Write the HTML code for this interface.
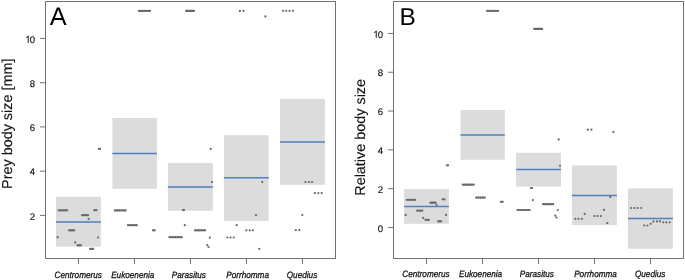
<!DOCTYPE html>
<html><head><meta charset="utf-8"><style>
html,body{margin:0;padding:0;background:#fff;}
body{width:685px;height:280px;overflow:hidden;}
svg{display:block;font-family:"Liberation Sans",sans-serif;will-change:transform;text-rendering:geometricPrecision;}
</style></head><body>
<svg width="685" height="280" viewBox="0 0 685 280">
<rect x="0" y="0" width="685" height="280" fill="#fff"/>
<rect x="56" y="196.8" width="44.9" height="49.9" fill="#dcdcdc"/>
<rect x="112.4" y="118" width="44.5" height="70.8" fill="#dcdcdc"/>
<rect x="167.9" y="163" width="45" height="47.8" fill="#dcdcdc"/>
<rect x="223.9" y="135.2" width="44.8" height="85.7" fill="#dcdcdc"/>
<rect x="280" y="98.9" width="44.9" height="85.9" fill="#dcdcdc"/>
<line x1="56" y1="222" x2="100.9" y2="222" stroke="#527fc0" stroke-width="1.5"/>
<line x1="112.4" y1="153.5" x2="156.9" y2="153.5" stroke="#527fc0" stroke-width="1.5"/>
<line x1="167.9" y1="187" x2="212.9" y2="187" stroke="#527fc0" stroke-width="1.5"/>
<line x1="223.9" y1="177.7" x2="268.7" y2="177.7" stroke="#527fc0" stroke-width="1.5"/>
<line x1="280" y1="142" x2="324.9" y2="142" stroke="#527fc0" stroke-width="1.5"/>
<line x1="58.6" y1="210.3" x2="67.2" y2="210.3" stroke="#858585" stroke-width="1.9"/>
<circle cx="58.6" cy="210.3" r="1.1" fill="#686868"/>
<circle cx="60.75" cy="210.3" r="1.1" fill="#686868"/>
<circle cx="62.9" cy="210.3" r="1.1" fill="#686868"/>
<circle cx="65.05" cy="210.3" r="1.1" fill="#686868"/>
<circle cx="67.2" cy="210.3" r="1.1" fill="#686868"/>
<line x1="94.3" y1="210.2" x2="96.5" y2="210.2" stroke="#858585" stroke-width="1.9"/>
<circle cx="94.3" cy="210.2" r="1.1" fill="#686868"/>
<circle cx="96.5" cy="210.2" r="1.1" fill="#686868"/>
<line x1="82.1" y1="215.2" x2="88" y2="215.2" stroke="#858585" stroke-width="1.9"/>
<circle cx="82.1" cy="215.2" r="1.1" fill="#686868"/>
<circle cx="84.07" cy="215.2" r="1.1" fill="#686868"/>
<circle cx="86.03" cy="215.2" r="1.1" fill="#686868"/>
<circle cx="88" cy="215.2" r="1.1" fill="#686868"/>
<circle cx="88.6" cy="218.9" r="1.1" fill="#686868"/>
<line x1="69" y1="230.3" x2="74.2" y2="230.3" stroke="#858585" stroke-width="1.9"/>
<circle cx="69" cy="230.3" r="1.1" fill="#686868"/>
<circle cx="70.73" cy="230.3" r="1.1" fill="#686868"/>
<circle cx="72.47" cy="230.3" r="1.1" fill="#686868"/>
<circle cx="74.2" cy="230.3" r="1.1" fill="#686868"/>
<circle cx="57.6" cy="237.2" r="1.1" fill="#686868"/>
<circle cx="97.9" cy="237.5" r="1.1" fill="#686868"/>
<circle cx="75.2" cy="242.4" r="1.1" fill="#686868"/>
<line x1="77.5" y1="245.3" x2="80.9" y2="245.3" stroke="#858585" stroke-width="1.9"/>
<circle cx="77.5" cy="245.3" r="1.1" fill="#686868"/>
<circle cx="79.2" cy="245.3" r="1.1" fill="#686868"/>
<circle cx="80.9" cy="245.3" r="1.1" fill="#686868"/>
<line x1="90.1" y1="248.8" x2="93.2" y2="248.8" stroke="#858585" stroke-width="1.9"/>
<circle cx="90.1" cy="248.8" r="1.1" fill="#686868"/>
<circle cx="91.65" cy="248.8" r="1.1" fill="#686868"/>
<circle cx="93.2" cy="248.8" r="1.1" fill="#686868"/>
<circle cx="98.9" cy="148.9" r="1.1" fill="#686868"/>
<circle cx="100" cy="148.9" r="1.1" fill="#686868"/>
<line x1="138.9" y1="10.9" x2="150" y2="10.9" stroke="#858585" stroke-width="1.9"/>
<circle cx="138.9" cy="10.9" r="1.1" fill="#686868"/>
<circle cx="140.75" cy="10.9" r="1.1" fill="#686868"/>
<circle cx="142.6" cy="10.9" r="1.1" fill="#686868"/>
<circle cx="144.45" cy="10.9" r="1.1" fill="#686868"/>
<circle cx="146.3" cy="10.9" r="1.1" fill="#686868"/>
<circle cx="148.15" cy="10.9" r="1.1" fill="#686868"/>
<circle cx="150" cy="10.9" r="1.1" fill="#686868"/>
<line x1="114.8" y1="210.4" x2="125.6" y2="210.4" stroke="#858585" stroke-width="1.9"/>
<circle cx="114.8" cy="210.4" r="1.1" fill="#686868"/>
<circle cx="116.96" cy="210.4" r="1.1" fill="#686868"/>
<circle cx="119.12" cy="210.4" r="1.1" fill="#686868"/>
<circle cx="121.28" cy="210.4" r="1.1" fill="#686868"/>
<circle cx="123.44" cy="210.4" r="1.1" fill="#686868"/>
<circle cx="125.6" cy="210.4" r="1.1" fill="#686868"/>
<line x1="128" y1="225.2" x2="136.8" y2="225.2" stroke="#858585" stroke-width="1.9"/>
<circle cx="128" cy="225.2" r="1.1" fill="#686868"/>
<circle cx="130.2" cy="225.2" r="1.1" fill="#686868"/>
<circle cx="132.4" cy="225.2" r="1.1" fill="#686868"/>
<circle cx="134.6" cy="225.2" r="1.1" fill="#686868"/>
<circle cx="136.8" cy="225.2" r="1.1" fill="#686868"/>
<line x1="152.9" y1="230.3" x2="154.7" y2="230.3" stroke="#858585" stroke-width="1.9"/>
<circle cx="152.9" cy="230.3" r="1.1" fill="#686868"/>
<circle cx="154.7" cy="230.3" r="1.1" fill="#686868"/>
<line x1="186.1" y1="10.8" x2="194" y2="10.8" stroke="#696969" stroke-width="2.3" stroke-linecap="round"/>
<circle cx="210.7" cy="148.9" r="1.1" fill="#686868"/>
<circle cx="212" cy="182.1" r="1.1" fill="#686868"/>
<line x1="184" y1="210.1" x2="183" y2="210.1" stroke="#858585" stroke-width="1.9"/>
<circle cx="184" cy="210.1" r="1.1" fill="#686868"/>
<circle cx="183" cy="210.1" r="1.1" fill="#686868"/>
<circle cx="184.8" cy="225.2" r="1.1" fill="#686868"/>
<line x1="195" y1="230.3" x2="205.1" y2="230.3" stroke="#858585" stroke-width="1.9"/>
<circle cx="195" cy="230.3" r="1.1" fill="#686868"/>
<circle cx="197.02" cy="230.3" r="1.1" fill="#686868"/>
<circle cx="199.04" cy="230.3" r="1.1" fill="#686868"/>
<circle cx="201.06" cy="230.3" r="1.1" fill="#686868"/>
<circle cx="203.08" cy="230.3" r="1.1" fill="#686868"/>
<circle cx="205.1" cy="230.3" r="1.1" fill="#686868"/>
<line x1="169.4" y1="237.2" x2="181.7" y2="237.2" stroke="#858585" stroke-width="1.9"/>
<circle cx="169.4" cy="237.2" r="1.1" fill="#686868"/>
<circle cx="171.45" cy="237.2" r="1.1" fill="#686868"/>
<circle cx="173.5" cy="237.2" r="1.1" fill="#686868"/>
<circle cx="175.55" cy="237.2" r="1.1" fill="#686868"/>
<circle cx="177.6" cy="237.2" r="1.1" fill="#686868"/>
<circle cx="179.65" cy="237.2" r="1.1" fill="#686868"/>
<circle cx="181.7" cy="237.2" r="1.1" fill="#686868"/>
<circle cx="209.8" cy="237.7" r="1.1" fill="#686868"/>
<circle cx="207.3" cy="245.1" r="1.1" fill="#686868"/>
<circle cx="208.5" cy="247" r="1.1" fill="#686868"/>
<circle cx="239.9" cy="10.9" r="1.1" fill="#686868"/>
<circle cx="243.5" cy="10.9" r="1.1" fill="#686868"/>
<circle cx="265.4" cy="16.4" r="1.1" fill="#686868"/>
<circle cx="262.3" cy="182.1" r="1.1" fill="#686868"/>
<circle cx="256" cy="215.2" r="1.1" fill="#686868"/>
<circle cx="236.7" cy="225.2" r="1.1" fill="#686868"/>
<circle cx="246.4" cy="230.3" r="1.1" fill="#686868"/>
<circle cx="249.7" cy="230.3" r="1.1" fill="#686868"/>
<circle cx="252.9" cy="230.3" r="1.1" fill="#686868"/>
<circle cx="227.4" cy="237.5" r="1.1" fill="#686868"/>
<circle cx="230.6" cy="237.5" r="1.1" fill="#686868"/>
<circle cx="233.8" cy="237.5" r="1.1" fill="#686868"/>
<circle cx="259.3" cy="248.8" r="1.1" fill="#686868"/>
<circle cx="283" cy="10.8" r="1.1" fill="#686868"/>
<circle cx="286.2" cy="10.8" r="1.1" fill="#686868"/>
<circle cx="289.5" cy="10.8" r="1.1" fill="#686868"/>
<circle cx="293" cy="10.8" r="1.1" fill="#686868"/>
<circle cx="305.4" cy="182" r="1.1" fill="#686868"/>
<circle cx="308.9" cy="182" r="1.1" fill="#686868"/>
<circle cx="312" cy="182" r="1.1" fill="#686868"/>
<circle cx="314.9" cy="193.1" r="1.1" fill="#686868"/>
<circle cx="318.3" cy="193.1" r="1.1" fill="#686868"/>
<circle cx="321.7" cy="193.1" r="1.1" fill="#686868"/>
<circle cx="302.3" cy="215.1" r="1.1" fill="#686868"/>
<circle cx="295.8" cy="230.2" r="1.1" fill="#686868"/>
<circle cx="299.3" cy="230.2" r="1.1" fill="#686868"/>
<rect x="45.5" y="1.5" width="290.0" height="257.0" fill="none" stroke="#737178" stroke-width="1"/>
<line x1="40.0" y1="215.41" x2="45.5" y2="215.41" stroke="#737178" stroke-width="1"/>
<text x="35.2" y="0" font-size="9.6" text-anchor="end" fill="#111" stroke="#111" stroke-width="0.15" transform="translate(0 219.61) scale(1 1.0)">2</text>
<line x1="40.0" y1="171.17" x2="45.5" y2="171.17" stroke="#737178" stroke-width="1"/>
<text x="35.2" y="0" font-size="9.6" text-anchor="end" fill="#111" stroke="#111" stroke-width="0.15" transform="translate(0 175.37) scale(1 1.0)">4</text>
<line x1="40.0" y1="126.93" x2="45.5" y2="126.93" stroke="#737178" stroke-width="1"/>
<text x="35.2" y="0" font-size="9.6" text-anchor="end" fill="#111" stroke="#111" stroke-width="0.15" transform="translate(0 131.13) scale(1 1.0)">6</text>
<line x1="40.0" y1="82.69" x2="45.5" y2="82.69" stroke="#737178" stroke-width="1"/>
<text x="35.2" y="0" font-size="9.6" text-anchor="end" fill="#111" stroke="#111" stroke-width="0.15" transform="translate(0 86.89) scale(1 1.0)">8</text>
<line x1="40.0" y1="38.45" x2="45.5" y2="38.45" stroke="#737178" stroke-width="1"/>
<text x="35.2" y="0" font-size="9.6" text-anchor="end" fill="#111" stroke="#111" stroke-width="0.15" transform="translate(0 42.65) scale(1 1.0)">0</text>
<path d="M0.462 0 L0.462 0.716 L0.40 0.716 C0.37 0.672 0.32 0.628 0.27 0.596 C0.24 0.578 0.215 0.566 0.195 0.556 L0.195 0.474 C0.225 0.488 0.26 0.506 0.29 0.526 C0.33 0.552 0.355 0.572 0.373 0.59 L0.373 0 Z" fill="#111" stroke="#111" stroke-width="0.016" transform="translate(24.22 42.65) scale(9.6 -9.6)"/>
<line x1="78.5" y1="258.5" x2="78.5" y2="264.0" stroke="#737178" stroke-width="1"/>
<text x="78.25" y="0" font-size="8.2" font-style="italic" text-anchor="middle" fill="#111" stroke="#111" stroke-width="0.25" transform="translate(0 278) scale(1 1.12)">Centromerus</text>
<line x1="134.5" y1="258.5" x2="134.5" y2="264.0" stroke="#737178" stroke-width="1"/>
<text x="132.75" y="0" font-size="8.2" font-style="italic" text-anchor="middle" fill="#111" stroke="#111" stroke-width="0.25" transform="translate(0 278) scale(1 1.12)">Eukoenenia</text>
<line x1="190.5" y1="258.5" x2="190.5" y2="264.0" stroke="#737178" stroke-width="1"/>
<text x="188.9" y="0" font-size="8.2" font-style="italic" text-anchor="middle" fill="#111" stroke="#111" stroke-width="0.25" transform="translate(0 278) scale(1 1.12)">Parasitus</text>
<line x1="246.5" y1="258.5" x2="246.5" y2="264.0" stroke="#737178" stroke-width="1"/>
<text x="247.6" y="0" font-size="8.2" font-style="italic" text-anchor="middle" fill="#111" stroke="#111" stroke-width="0.25" transform="translate(0 278) scale(1 1.12)">Porrhomma</text>
<line x1="302.5" y1="258.5" x2="302.5" y2="264.0" stroke="#737178" stroke-width="1"/>
<text x="302" y="0" font-size="8.2" font-style="italic" text-anchor="middle" fill="#111" stroke="#111" stroke-width="0.25" transform="translate(0 278) scale(1 1.12)">Quedius</text>
<text x="7.5" y="123.75" font-size="14.4" text-anchor="middle" fill="#111" stroke="#111" stroke-width="0.12" transform="rotate(-90 7.5 123.75)" dominant-baseline="central">Prey body size [mm]</text>
<text x="49.8" y="24.9" font-size="25.3" fill="#000">A</text>
<rect x="404.1" y="189" width="44.8" height="34.8" fill="#dcdcdc"/>
<rect x="460.5" y="110" width="44.3" height="49.8" fill="#dcdcdc"/>
<rect x="516.1" y="152.8" width="44.9" height="33.8" fill="#dcdcdc"/>
<rect x="572" y="165.4" width="44.9" height="59.6" fill="#dcdcdc"/>
<rect x="628" y="188.4" width="44.9" height="60.4" fill="#dcdcdc"/>
<line x1="404.1" y1="206.5" x2="448.9" y2="206.5" stroke="#527fc0" stroke-width="1.5"/>
<line x1="460.5" y1="135" x2="504.8" y2="135" stroke="#527fc0" stroke-width="1.5"/>
<line x1="516.1" y1="169.5" x2="561" y2="169.5" stroke="#527fc0" stroke-width="1.5"/>
<line x1="572" y1="195.5" x2="616.9" y2="195.5" stroke="#527fc0" stroke-width="1.5"/>
<line x1="628" y1="218.5" x2="672.9" y2="218.5" stroke="#527fc0" stroke-width="1.5"/>
<circle cx="446.9" cy="165.3" r="1.1" fill="#686868"/>
<circle cx="448.1" cy="165.3" r="1.1" fill="#686868"/>
<line x1="406.9" y1="199.8" x2="415.2" y2="199.8" stroke="#858585" stroke-width="1.9"/>
<circle cx="406.9" cy="199.8" r="1.1" fill="#686868"/>
<circle cx="408.97" cy="199.8" r="1.1" fill="#686868"/>
<circle cx="411.05" cy="199.8" r="1.1" fill="#686868"/>
<circle cx="413.12" cy="199.8" r="1.1" fill="#686868"/>
<circle cx="415.2" cy="199.8" r="1.1" fill="#686868"/>
<line x1="442.7" y1="199.3" x2="444.5" y2="199.3" stroke="#858585" stroke-width="1.9"/>
<circle cx="442.7" cy="199.3" r="1.1" fill="#686868"/>
<circle cx="444.5" cy="199.3" r="1.1" fill="#686868"/>
<line x1="430.4" y1="202.7" x2="435.6" y2="202.7" stroke="#858585" stroke-width="1.9"/>
<circle cx="430.4" cy="202.7" r="1.1" fill="#686868"/>
<circle cx="432.13" cy="202.7" r="1.1" fill="#686868"/>
<circle cx="433.87" cy="202.7" r="1.1" fill="#686868"/>
<circle cx="435.6" cy="202.7" r="1.1" fill="#686868"/>
<circle cx="436.6" cy="204.8" r="1.1" fill="#686868"/>
<line x1="417.2" y1="210.7" x2="422.2" y2="210.7" stroke="#858585" stroke-width="1.9"/>
<circle cx="417.2" cy="210.7" r="1.1" fill="#686868"/>
<circle cx="419.7" cy="210.7" r="1.1" fill="#686868"/>
<circle cx="422.2" cy="210.7" r="1.1" fill="#686868"/>
<circle cx="405.6" cy="214.9" r="1.1" fill="#686868"/>
<circle cx="446" cy="214.9" r="1.1" fill="#686868"/>
<circle cx="423.2" cy="217.9" r="1.1" fill="#686868"/>
<line x1="425.5" y1="219.8" x2="428.9" y2="219.8" stroke="#858585" stroke-width="1.9"/>
<circle cx="425.5" cy="219.8" r="1.1" fill="#686868"/>
<circle cx="427.2" cy="219.8" r="1.1" fill="#686868"/>
<circle cx="428.9" cy="219.8" r="1.1" fill="#686868"/>
<line x1="438.1" y1="221.3" x2="441.2" y2="221.3" stroke="#858585" stroke-width="1.9"/>
<circle cx="438.1" cy="221.3" r="1.1" fill="#686868"/>
<circle cx="439.65" cy="221.3" r="1.1" fill="#686868"/>
<circle cx="441.2" cy="221.3" r="1.1" fill="#686868"/>
<line x1="487.1" y1="10.9" x2="498" y2="10.9" stroke="#858585" stroke-width="1.9"/>
<circle cx="487.1" cy="10.9" r="1.1" fill="#686868"/>
<circle cx="489.28" cy="10.9" r="1.1" fill="#686868"/>
<circle cx="491.46" cy="10.9" r="1.1" fill="#686868"/>
<circle cx="493.64" cy="10.9" r="1.1" fill="#686868"/>
<circle cx="495.82" cy="10.9" r="1.1" fill="#686868"/>
<circle cx="498" cy="10.9" r="1.1" fill="#686868"/>
<line x1="462.8" y1="184.7" x2="473.7" y2="184.7" stroke="#858585" stroke-width="1.9"/>
<circle cx="462.8" cy="184.7" r="1.1" fill="#686868"/>
<circle cx="464.98" cy="184.7" r="1.1" fill="#686868"/>
<circle cx="467.16" cy="184.7" r="1.1" fill="#686868"/>
<circle cx="469.34" cy="184.7" r="1.1" fill="#686868"/>
<circle cx="471.52" cy="184.7" r="1.1" fill="#686868"/>
<circle cx="473.7" cy="184.7" r="1.1" fill="#686868"/>
<line x1="476.2" y1="197.6" x2="484.8" y2="197.6" stroke="#858585" stroke-width="1.9"/>
<circle cx="476.2" cy="197.6" r="1.1" fill="#686868"/>
<circle cx="478.35" cy="197.6" r="1.1" fill="#686868"/>
<circle cx="480.5" cy="197.6" r="1.1" fill="#686868"/>
<circle cx="482.65" cy="197.6" r="1.1" fill="#686868"/>
<circle cx="484.8" cy="197.6" r="1.1" fill="#686868"/>
<line x1="500.9" y1="201.8" x2="502.7" y2="201.8" stroke="#858585" stroke-width="1.9"/>
<circle cx="500.9" cy="201.8" r="1.1" fill="#686868"/>
<circle cx="502.7" cy="201.8" r="1.1" fill="#686868"/>
<line x1="534.3" y1="28.9" x2="542" y2="28.9" stroke="#696969" stroke-width="2.3" stroke-linecap="round"/>
<circle cx="558.7" cy="139.4" r="1.1" fill="#686868"/>
<circle cx="560" cy="165.8" r="1.1" fill="#686868"/>
<line x1="532" y1="188.1" x2="531" y2="188.1" stroke="#858585" stroke-width="1.9"/>
<circle cx="532" cy="188.1" r="1.1" fill="#686868"/>
<circle cx="531" cy="188.1" r="1.1" fill="#686868"/>
<circle cx="532.8" cy="200.1" r="1.1" fill="#686868"/>
<line x1="543.1" y1="204.2" x2="553.1" y2="204.2" stroke="#858585" stroke-width="1.9"/>
<circle cx="543.1" cy="204.2" r="1.1" fill="#686868"/>
<circle cx="545.1" cy="204.2" r="1.1" fill="#686868"/>
<circle cx="547.1" cy="204.2" r="1.1" fill="#686868"/>
<circle cx="549.1" cy="204.2" r="1.1" fill="#686868"/>
<circle cx="551.1" cy="204.2" r="1.1" fill="#686868"/>
<circle cx="553.1" cy="204.2" r="1.1" fill="#686868"/>
<line x1="517.4" y1="210" x2="529.7" y2="210" stroke="#858585" stroke-width="1.9"/>
<circle cx="517.4" cy="210" r="1.1" fill="#686868"/>
<circle cx="519.45" cy="210" r="1.1" fill="#686868"/>
<circle cx="521.5" cy="210" r="1.1" fill="#686868"/>
<circle cx="523.55" cy="210" r="1.1" fill="#686868"/>
<circle cx="525.6" cy="210" r="1.1" fill="#686868"/>
<circle cx="527.65" cy="210" r="1.1" fill="#686868"/>
<circle cx="529.7" cy="210" r="1.1" fill="#686868"/>
<circle cx="557.8" cy="210" r="1.1" fill="#686868"/>
<circle cx="555.3" cy="215.7" r="1.1" fill="#686868"/>
<circle cx="556.5" cy="217.5" r="1.1" fill="#686868"/>
<circle cx="587.8" cy="129.7" r="1.1" fill="#686868"/>
<circle cx="591.4" cy="129.7" r="1.1" fill="#686868"/>
<circle cx="613.4" cy="131.9" r="1.1" fill="#686868"/>
<circle cx="610.3" cy="197.1" r="1.1" fill="#686868"/>
<circle cx="604" cy="209.9" r="1.1" fill="#686868"/>
<circle cx="584.7" cy="213.9" r="1.1" fill="#686868"/>
<circle cx="594.4" cy="216" r="1.1" fill="#686868"/>
<circle cx="597.5" cy="216" r="1.1" fill="#686868"/>
<circle cx="600.9" cy="216" r="1.1" fill="#686868"/>
<circle cx="575.4" cy="218.8" r="1.1" fill="#686868"/>
<circle cx="578.5" cy="218.8" r="1.1" fill="#686868"/>
<circle cx="581.9" cy="218.8" r="1.1" fill="#686868"/>
<circle cx="607.3" cy="223.2" r="1.1" fill="#686868"/>
<circle cx="631" cy="208" r="1.1" fill="#686868"/>
<circle cx="634.3" cy="208" r="1.1" fill="#686868"/>
<circle cx="637.6" cy="208" r="1.1" fill="#686868"/>
<circle cx="641.2" cy="208" r="1.1" fill="#686868"/>
<circle cx="644.2" cy="225.5" r="1.1" fill="#686868"/>
<circle cx="647.4" cy="225.5" r="1.1" fill="#686868"/>
<circle cx="650.7" cy="223.8" r="1.1" fill="#686868"/>
<circle cx="653.5" cy="221.4" r="1.1" fill="#686868"/>
<circle cx="657.1" cy="221.4" r="1.1" fill="#686868"/>
<circle cx="660.1" cy="221.4" r="1.1" fill="#686868"/>
<circle cx="663.3" cy="222.3" r="1.1" fill="#686868"/>
<circle cx="666.4" cy="222.3" r="1.1" fill="#686868"/>
<circle cx="669.7" cy="222.3" r="1.1" fill="#686868"/>
<rect x="393.5" y="1.5" width="290.0" height="257.0" fill="none" stroke="#737178" stroke-width="1"/>
<line x1="388.0" y1="227.45" x2="393.5" y2="227.45" stroke="#737178" stroke-width="1"/>
<text x="383.2" y="0" font-size="9.6" text-anchor="end" fill="#111" stroke="#111" stroke-width="0.15" transform="translate(0 231.65) scale(1 1.0)">0</text>
<line x1="388.0" y1="188.65" x2="393.5" y2="188.65" stroke="#737178" stroke-width="1"/>
<text x="383.2" y="0" font-size="9.6" text-anchor="end" fill="#111" stroke="#111" stroke-width="0.15" transform="translate(0 192.85) scale(1 1.0)">2</text>
<line x1="388.0" y1="149.85" x2="393.5" y2="149.85" stroke="#737178" stroke-width="1"/>
<text x="383.2" y="0" font-size="9.6" text-anchor="end" fill="#111" stroke="#111" stroke-width="0.15" transform="translate(0 154.05) scale(1 1.0)">4</text>
<line x1="388.0" y1="111.05" x2="393.5" y2="111.05" stroke="#737178" stroke-width="1"/>
<text x="383.2" y="0" font-size="9.6" text-anchor="end" fill="#111" stroke="#111" stroke-width="0.15" transform="translate(0 115.25) scale(1 1.0)">6</text>
<line x1="388.0" y1="72.25" x2="393.5" y2="72.25" stroke="#737178" stroke-width="1"/>
<text x="383.2" y="0" font-size="9.6" text-anchor="end" fill="#111" stroke="#111" stroke-width="0.15" transform="translate(0 76.45) scale(1 1.0)">8</text>
<line x1="388.0" y1="33.45" x2="393.5" y2="33.45" stroke="#737178" stroke-width="1"/>
<text x="383.2" y="0" font-size="9.6" text-anchor="end" fill="#111" stroke="#111" stroke-width="0.15" transform="translate(0 37.65) scale(1 1.0)">0</text>
<path d="M0.462 0 L0.462 0.716 L0.40 0.716 C0.37 0.672 0.32 0.628 0.27 0.596 C0.24 0.578 0.215 0.566 0.195 0.556 L0.195 0.474 C0.225 0.488 0.26 0.506 0.29 0.526 C0.33 0.552 0.355 0.572 0.373 0.59 L0.373 0 Z" fill="#111" stroke="#111" stroke-width="0.016" transform="translate(372.22 37.65) scale(9.6 -9.6)"/>
<line x1="426.5" y1="258.5" x2="426.5" y2="264.0" stroke="#737178" stroke-width="1"/>
<text x="426" y="0" font-size="8.2" font-style="italic" text-anchor="middle" fill="#111" stroke="#111" stroke-width="0.25" transform="translate(0 276.8) scale(1 1.12)">Centromerus</text>
<line x1="482.5" y1="258.5" x2="482.5" y2="264.0" stroke="#737178" stroke-width="1"/>
<text x="480.55" y="0" font-size="8.2" font-style="italic" text-anchor="middle" fill="#111" stroke="#111" stroke-width="0.25" transform="translate(0 276.8) scale(1 1.12)">Eukoenenia</text>
<line x1="538.5" y1="258.5" x2="538.5" y2="264.0" stroke="#737178" stroke-width="1"/>
<text x="536.9" y="0" font-size="8.2" font-style="italic" text-anchor="middle" fill="#111" stroke="#111" stroke-width="0.25" transform="translate(0 276.8) scale(1 1.12)">Parasitus</text>
<line x1="594.5" y1="258.5" x2="594.5" y2="264.0" stroke="#737178" stroke-width="1"/>
<text x="595.55" y="0" font-size="8.2" font-style="italic" text-anchor="middle" fill="#111" stroke="#111" stroke-width="0.25" transform="translate(0 276.8) scale(1 1.12)">Porrhomma</text>
<line x1="650.5" y1="258.5" x2="650.5" y2="264.0" stroke="#737178" stroke-width="1"/>
<text x="650.2" y="0" font-size="8.2" font-style="italic" text-anchor="middle" fill="#111" stroke="#111" stroke-width="0.25" transform="translate(0 276.8) scale(1 1.12)">Quedius</text>
<text x="361.2" y="137.35" font-size="14.4" text-anchor="middle" fill="#111" stroke="#111" stroke-width="0.12" transform="rotate(-90 361.2 137.35)" dominant-baseline="central">Relative body size</text>
<text x="399.5" y="25.2" font-size="24.5" fill="#000">B</text>
</svg>
</body></html>
